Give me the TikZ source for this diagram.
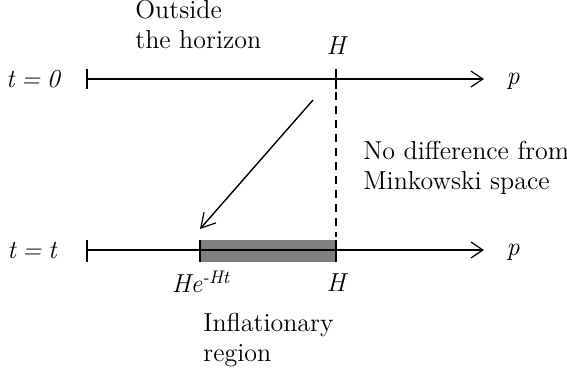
\documentclass[tikz,border=0pt]{standalone}
\usepackage{tikz}
\usetikzlibrary{positioning, arrows.meta, calc}

\begin{document}
\begin{tikzpicture}[
  x=0.5pt, y=-0.5pt,
  % Styles
  axisline/.style={
    -{Straight Barb[length=6pt, width=8pt, line width=0.6pt]}, line width=0.9pt
  },
  tickmark/.style={line width=0.7pt},
  lbl/.style={
    font=\fontsize{13}{15}\selectfont, inner sep=0pt, align=left
  },
  mlbl/.style={
    font=\fontsize{13}{15}\selectfont\itshape, inner sep=0pt
  },
  drift/.style={
    -{Straight Barb[length=7pt, width=8pt, line width=0.6pt]}, line width=0.7pt
  },
]
\useasboundingbox (0,0) rectangle (567,377);

% === AXES ===
\coordinate (top0) at (87,79);
\coordinate (topend) at (484,79);
\coordinate (bot0) at (87,250);
\coordinate (botend) at (484,250);
\coordinate (hTop) at (336,79);
\coordinate (hBot) at (336,250);
\coordinate (lowBot) at (200,250);

% === Inflationary band ===
\fill[black!50] ($(lowBot)+(0,-10)$) rectangle ($(hBot)+(0,12)$);

\draw[axisline] (top0) -- (topend);
\draw[axisline] (bot0) -- (botend);

% === Ticks ===
\draw[tickmark] ($(top0)+(0,-10)$) -- ($(top0)+(0,10)$);
\draw[tickmark] ($(hTop)+(0,-10)$) -- ($(hTop)+(0,10)$);
\draw[tickmark] ($(bot0)+(0,-10)$) -- ($(bot0)+(0,12)$);
\draw[tickmark] ($(lowBot)+(0,-10)$) -- ($(lowBot)+(0,12)$);
\draw[tickmark] ($(hBot)+(0,-10)$) -- ($(hBot)+(0,12)$);

% === Labels ===
\node[mlbl] (tzero) at (33,79) {t\hspace{0.25em}=\hspace{0.25em}0};
\node[mlbl] (tt) at (32,250) {t\hspace{0.25em}=\hspace{0.25em}t};
\node[mlbl] (ptop) at (513,81) {p};
\node[mlbl] (pbot) at (513,252) {p};
\node[mlbl] (hlabtop) at (336,46) {H};
\node[mlbl] (hlabbot) at (336,283) {H};
\node[mlbl] (helab) at (201,282) {He\textsuperscript{-Ht}};
\node[lbl, anchor=north west] (outside) at (135,0) {Outside\\the horizon};
\node[lbl, anchor=north west] (nodiff) at (363,141) {No difference from\\Minkowski space};
\node[lbl, anchor=north west] (inflreg) at (203,313) {Inflationary\\region};

% === Dashed horizon line and drift arrow ===
\draw[line width=0.6pt, dash pattern=on 4pt off 3pt] ($(hTop)+(0,13)$) -- ($(hBot)+(0,-13)$);
\coordinate (driftstart) at (313,100);
\coordinate (driftend) at (200,229);
\draw[drift] (driftstart) -- (driftend);

\end{tikzpicture}
\end{document}
